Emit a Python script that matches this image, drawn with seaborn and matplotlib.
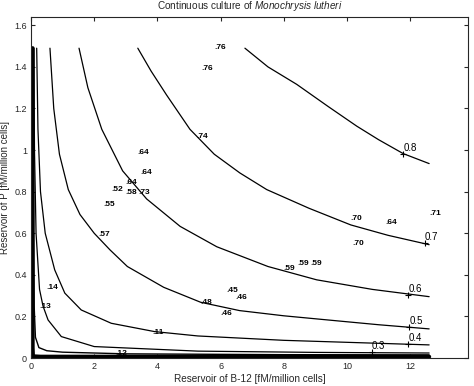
import numpy as np
import pandas as pd
import matplotlib
matplotlib.use("Agg")
import matplotlib.pyplot as plt
import seaborn as sns

# ---- contour lines (level -> points) ----
c08_x = [6.77, 7.5, 8.41, 9.4, 10.31, 11.0, 11.78, 12.6]
c08_y = [1.49, 1.40, 1.316, 1.21, 1.115, 1.05, 0.983, 0.935]
c07_x = [3.38, 3.8, 4.29, 5.03, 5.8, 6.61, 7.46, 8.8, 10.12, 11.3, 12.6]
c07_y = [1.49, 1.38, 1.265, 1.10, 0.98, 0.89, 0.81, 0.72, 0.64, 0.59, 0.545]
c06_x = [1.52, 1.8, 2.24, 2.9, 3.66, 4.72, 5.88, 7.5, 9.04, 10.8, 12.6]
c06_y = [1.49, 1.30, 1.10, 0.90, 0.765, 0.633, 0.535, 0.44, 0.376, 0.33, 0.295]
c05_x = [0.6, 0.72, 0.9, 1.18, 1.55, 2.0, 2.5, 3.05, 4.2, 5.37, 6.6, 8.0, 9.25, 11.0, 12.6]
c05_y = [1.49, 1.2, 0.98, 0.81, 0.69, 0.6, 0.52, 0.44, 0.34, 0.268, 0.228, 0.203, 0.185, 0.16, 0.14]
c04_x = [0.18, 0.22, 0.3, 0.45, 0.75, 1.07, 1.59, 2.54, 3.91, 5.28, 8.0, 12.6]
c04_y = [1.49, 1.1, 0.8, 0.6, 0.424, 0.312, 0.231, 0.167, 0.127, 0.106, 0.085, 0.063]
c03_x = [0.09, 0.11, 0.16, 0.27, 0.38, 0.54, 0.96, 2.0, 5.28, 9.0, 12.6]
c03_y = [1.49, 1.0, 0.6, 0.33, 0.25, 0.183, 0.103, 0.055, 0.033, 0.027, 0.024]
c02_x = [0.06, 0.08, 0.1, 0.14, 0.25, 0.5, 1.0, 3.0, 8.0, 12.6]
c02_y = [1.49, 0.6, 0.25, 0.1, 0.05, 0.035, 0.028, 0.02, 0.016, 0.015]
c01_x = [0.05, 0.05, 0.06, 0.3, 12.6]
c01_y = [1.49, 0.05, 0.008, 0.006, 0.006]

# contour labels: level, marker position
lab_levels = ["0.8", "0.7", "0.6", "0.5", "0.4", "0.3"]
lab_x = [11.78, 12.47, 11.94, 11.97, 11.94, 10.78]
lab_y = [0.982, 0.553, 0.304, 0.151, 0.067, 0.03]

# observed culture points: B-12 reservoir, P reservoir, growth rate label
obs_x = [5.8, 5.4, 5.22, 3.38, 3.45, 3.0, 2.55, 3.0, 3.41, 2.29, 2.13, 0.5, 0.26,
         3.85, 2.66, 5.37, 6.19, 6.46, 5.98, 10.12, 11.23, 12.6, 10.18, 8.0, 8.44, 8.85]
obs_y = [1.495, 1.393, 1.064, 0.99, 0.89, 0.842, 0.81, 0.797, 0.794, 0.737, 0.593,
         0.339, 0.25, 0.122, 0.023, 0.267, 0.326, 0.29, 0.212, 0.67, 0.654, 0.694,
         0.549, 0.43, 0.453, 0.453]
obs_lab = [".76", ".76", ".74", ".64", ".64", ".64", ".52", ".58", ".73", ".55", ".57",
           ".14", ".13", ".11", ".12", ".48", ".45", ".46", ".46", ".70", ".64", ".71",
           ".70", ".59", ".59", ".59"]

sns.set_style("ticks")
plt.rcParams["font.family"] = ["Liberation Sans", "DejaVu Sans"]
plt.rcParams["mathtext.fontset"] = "custom"
plt.rcParams["mathtext.rm"] = "Liberation Sans"
plt.rcParams["mathtext.it"] = "Liberation Sans:italic"

fig = plt.figure(figsize=(4.74, 3.86), dpi=100)
ax = fig.add_axes([31 / 474, 1 - 358 / 386, (468 - 31) / 474, (358 - 17) / 386])

lines = [(c08_x, c08_y, 0.9), (c07_x, c07_y, 0.9), (c06_x, c06_y, 0.9),
         (c05_x, c05_y, 0.9), (c04_x, c04_y, 0.9), (c03_x, c03_y, 0.9),
         (c02_x, c02_y, 1.0), (c01_x, c01_y, 3.0)]
for lx, ly, lw in lines:
    sns.lineplot(x=lx, y=ly, sort=False, estimator=None, color="black",
                 linewidth=lw, ax=ax)

sns.scatterplot(x=lab_x, y=lab_y, marker="+", s=25, color="black", linewidth=0.8, ax=ax)
for t, x, y in zip(lab_levels, lab_x, lab_y):
    ax.text(x, y + 0.004, t, fontsize=7, ha="left", va="bottom", color="black")

for t, x, y in zip(obs_lab, obs_x, obs_y):
    ax.text(x, y, t, fontsize=6, fontweight="bold", ha="left", va="center", color="black")

ax.set_xlim(0, 13.83)
ax.set_ylim(0, 1.64)
ax.set_xticks([0, 2, 4, 6, 8, 10, 12])
ax.set_yticks([0, 0.2, 0.4, 0.6, 0.8, 1.0, 1.2, 1.4, 1.6])
ax.set_yticklabels(["0", "0.2", "0.4", "0.6", "0.8", "1", "1.2", "1.4", "1.6"])
ax.tick_params(direction="in", top=True, right=True, labelsize=6.5, length=3, width=0.8, pad=3)
for s in ax.spines.values():
    s.set_visible(True)
    s.set_linewidth(0.8)
ax.set_xlabel("Reservoir of B-12 [fM/million cells]", fontsize=7.2, labelpad=2)
ax.set_ylabel("Reservoir of P [fM/million cells]", fontsize=7, labelpad=3)
ax.set_title(r"Continuous culture of $\it{Monochrysis\ lutheri}$", fontsize=7.2, pad=5.5)

fig.savefig("out.png", dpi=100)
